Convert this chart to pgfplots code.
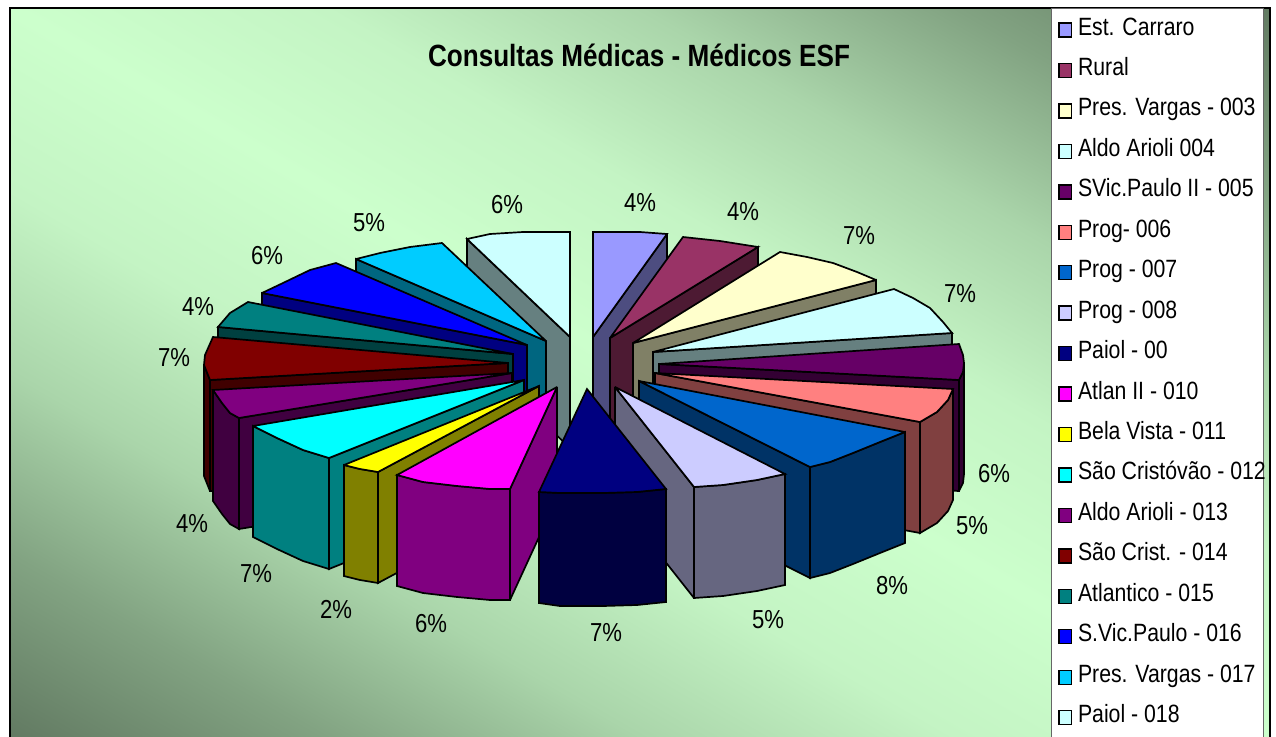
\documentclass[border=0pt]{standalone}
\usepackage{fontspec}
\setmainfont[FakeStretch=0.85]{Liberation Sans}
\usepackage{pgfplots}
\pgfplotsset{compat=1.18}

\pgfplotsset{
  pf/.style={forget plot, draw=black, line width=1.7pt, line join=miter, miter limit=3},
}
\tikzset{pct/.style={font=\fontsize{26}{26}\selectfont, inner sep=0pt}}

\begin{document}
\begin{tikzpicture}
\path[use as bounding box] (0,0) rectangle (1276pt,736pt);
\begin{axis}[
    scale only axis,
    width=1276pt, height=736pt,
    xmin=0, xmax=1276, ymin=0, ymax=736,
    y dir=reverse,
    axis lines=none,
    colormap={bg}{rgb255=(204,255,204) rgb255=(196,244,196) rgb255=(170,213,170) rgb255=(130,163,130) rgb255=(98,122,98)},
    point meta min=0, point meta max=1,
    legend style={at={(axis cs:1058,17)}, anchor=north west, draw=none, fill=none,
      font=\fontsize{25}{25}\selectfont, row sep=16.45pt, inner sep=0pt, outer sep=0pt,
      nodes={inner sep=0pt, text height=18pt, text depth=6pt, anchor=west}},
    legend cell align=left,
    legend image code/.code={\path[draw=none, fill=none] (0pt,0pt) -- (20pt,0pt); \draw[#1, draw=black, line width=1.4pt] (1pt,-8pt) rectangle (13.5pt,6pt);},
]
% legend swatches
\addlegendimage{fill={rgb,255:red,153;green,153;blue,255}}
\addlegendimage{fill={rgb,255:red,153;green,51;blue,102}}
\addlegendimage{fill={rgb,255:red,255;green,255;blue,204}}
\addlegendimage{fill={rgb,255:red,204;green,255;blue,255}}
\addlegendimage{fill={rgb,255:red,102;green,0;blue,102}}
\addlegendimage{fill={rgb,255:red,255;green,128;blue,128}}
\addlegendimage{fill={rgb,255:red,0;green,102;blue,204}}
\addlegendimage{fill={rgb,255:red,204;green,204;blue,255}}
\addlegendimage{fill={rgb,255:red,0;green,0;blue,128}}
\addlegendimage{fill={rgb,255:red,255;green,0;blue,255}}
\addlegendimage{fill={rgb,255:red,255;green,255;blue,0}}
\addlegendimage{fill={rgb,255:red,0;green,255;blue,255}}
\addlegendimage{fill={rgb,255:red,128;green,0;blue,128}}
\addlegendimage{fill={rgb,255:red,128;green,0;blue,0}}
\addlegendimage{fill={rgb,255:red,0;green,128;blue,128}}
\addlegendimage{fill={rgb,255:red,0;green,0;blue,255}}
\addlegendimage{fill={rgb,255:red,0;green,204;blue,255}}
\addlegendimage{fill={rgb,255:red,204;green,255;blue,255}}

% background
\addplot[forget plot, patch, patch type=triangle, shader=interp, point meta=explicit] coordinates {
  (10,8)[0] (1270,736)[0] (1270,8)[1]
  (10,8)[0] (1270,736)[0] (10,736)[1]
};
\addplot[forget plot, draw=black, line width=1.2pt] coordinates {(10,740) (10,8) (1270,8) (1270,740)};
\addplot[pf, fill=white, line width=1pt, draw=black!60] coordinates {(1051,8) (1263,8) (1263,740) (1051,740)} --cycle;

% Paiol - 018
\addplot[pf, fill={rgb,255:red,102;green,128;blue,128}] coordinates {(467,239) (570,337) (570,448) (467,350)} --cycle;
\addplot[pf, fill={rgb,255:red,204;green,255;blue,255}] coordinates {(570,337) (570,232) (523,232) (490,234) (467,239)} --cycle;
% Est. Carraro
\addplot[pf, fill={rgb,255:red,77;green,77;blue,128}] coordinates {(667,234) (593,337) (593,448) (667,345)} --cycle;
\addplot[pf, fill={rgb,255:red,153;green,153;blue,255}] coordinates {(593,337) (593,232) (640,232) (667,234)} --cycle;
% Pres. Vargas - 017
\addplot[pf, fill={rgb,255:red,0;green,102;blue,128}] coordinates {(356,259) (546,341) (546,452) (356,370)} --cycle;
\addplot[pf, fill={rgb,255:red,0;green,204;blue,255}] coordinates {(546,341) (442,243) (410,247) (380,253) (356,259)} --cycle;
% Rural
\addplot[pf, fill={rgb,255:red,77;green,26;blue,51}] coordinates {(758,247) (610,338) (610,449) (758,358)} --cycle;
\addplot[pf, fill={rgb,255:red,153;green,51;blue,102}] coordinates {(610,338) (683,237) (720,241) (758,247)} --cycle;
% S.Vic.Paulo - 016
\addplot[pf, fill={rgb,255:red,0;green,0;blue,128}] coordinates {(262,293) (527,345) (527,456) (262,404)} --cycle;
\addplot[pf, fill={rgb,255:red,0;green,0;blue,255}] coordinates {(527,345) (336,263) (310,270) (283,283) (262,293)} --cycle;
% Pres. Vargas - 003
\addplot[pf, fill={rgb,255:red,128;green,128;blue,102}] coordinates {(876,280) (633,343) (633,454) (876,391)} --cycle;
\addplot[pf, fill={rgb,255:red,255;green,255;blue,204}] coordinates {(633,343) (780,252) (807,257) (833,263) (857,272) (876,280)} --cycle;
% Atlantico - 015
\addplot[pf, fill={rgb,255:red,0;green,64;blue,64}] coordinates {(218,327) (513,354) (513,465) (218,438)} --cycle;
\addplot[pf, fill={rgb,255:red,0;green,128;blue,128}] coordinates {(513,354) (248,302) (230,313) (218,327)} --cycle;
% Aldo Arioli 004
\addplot[pf, fill={rgb,255:red,102;green,128;blue,128}] coordinates {(952,333) (653,352) (653,463) (952,444)} --cycle;
\addplot[pf, fill={rgb,255:red,204;green,255;blue,255}] coordinates {(653,352) (894,289) (913,298) (930,308) (943,322) (952,333)} --cycle;
% Sao Crist. - 014
\addplot[pf, fill={rgb,255:red,64;green,0;blue,0}] coordinates {(508,363) (210,380) (210,491) (508,474)} --cycle;
\addplot[pf, fill={rgb,255:red,64;green,0;blue,0}] coordinates {(204,365) (210,380) (210,491) (204,476)} --cycle;
\addplot[pf, fill={rgb,255:red,128;green,0;blue,0}] coordinates {(508,363) (213,337) (205,355) (204,365) (210,380)} --cycle;
% SVic.Paulo II - 005
\addplot[pf, fill={rgb,255:red,51;green,0;blue,51}] coordinates {(659,364) (959,380) (959,491) (659,475)} --cycle;
\addplot[pf, fill={rgb,255:red,51;green,0;blue,51}] coordinates {(964,363) (963,372) (959,380) (959,491) (963,483) (964,474)} --cycle;
\addplot[pf, fill={rgb,255:red,102;green,0;blue,102}] coordinates {(659,364) (959,344) (963,355) (964,363) (963,372) (959,380)} --cycle;
% Aldo Arioli - 013
\addplot[pf, fill={rgb,255:red,64;green,0;blue,64}] coordinates {(512,373) (239,418) (239,529) (512,484)} --cycle;
\addplot[pf, fill={rgb,255:red,64;green,0;blue,64}] coordinates {(213,390) (222,403) (230,413) (239,418) (239,529) (230,524) (222,514) (213,501)} --cycle;
\addplot[pf, fill={rgb,255:red,128;green,0;blue,128}] coordinates {(512,373) (213,390) (222,403) (230,413) (239,418)} --cycle;
% Prog- 006
\addplot[pf, fill={rgb,255:red,128;green,64;blue,64}] coordinates {(655,373) (920,422) (920,533) (655,484)} --cycle;
\addplot[pf, fill={rgb,255:red,128;green,64;blue,64}] coordinates {(953,389) (948,400) (937,412) (920,422) (920,533) (937,523) (948,511) (953,500)} --cycle;
\addplot[pf, fill={rgb,255:red,255;green,128;blue,128}] coordinates {(655,373) (953,389) (948,400) (937,412) (920,422)} --cycle;
% Sao Cristovao - 012
\addplot[pf, fill={rgb,255:red,0;green,128;blue,128}] coordinates {(524,380) (329,458) (329,569) (524,491)} --cycle;
\addplot[pf, fill={rgb,255:red,0;green,128;blue,128}] coordinates {(253,426) (277,438) (303,450) (329,458) (329,569) (303,561) (277,549) (253,537)} --cycle;
\addplot[pf, fill={rgb,255:red,0;green,255;blue,255}] coordinates {(524,380) (253,426) (277,438) (303,450) (329,458)} --cycle;
% Prog - 007
\addplot[pf, fill={rgb,255:red,0;green,51;blue,102}] coordinates {(639,381) (810,467) (810,578) (639,492)} --cycle;
\addplot[pf, fill={rgb,255:red,0;green,51;blue,102}] coordinates {(905,432) (880,442) (853,453) (830,462) (810,467) (810,578) (830,573) (853,564) (880,553) (905,543)} --cycle;
\addplot[pf, fill={rgb,255:red,0;green,102;blue,204}] coordinates {(639,381) (905,432) (880,442) (853,453) (830,462) (810,467)} --cycle;
% Bela Vista - 011
\addplot[pf, fill={rgb,255:red,128;green,128;blue,0}] coordinates {(539,386) (378,472) (378,583) (539,497)} --cycle;
\addplot[pf, fill={rgb,255:red,128;green,128;blue,0}] coordinates {(344,465) (360,469) (378,472) (378,583) (360,580) (344,576)} --cycle;
\addplot[pf, fill={rgb,255:red,255;green,255;blue,0}] coordinates {(539,386) (344,465) (360,469) (378,472)} --cycle;
% Prog - 008
\addplot[pf, fill={rgb,255:red,102;green,102;blue,128}] coordinates {(615,387) (694,487) (694,598) (615,498)} --cycle;
\addplot[pf, fill={rgb,255:red,102;green,102;blue,128}] coordinates {(785,474) (757,480) (723,485) (694,487) (694,598) (723,596) (757,591) (785,585)} --cycle;
\addplot[pf, fill={rgb,255:red,204;green,204;blue,255}] coordinates {(615,387) (785,474) (757,480) (723,485) (694,487)} --cycle;
% Atlan II - 010
\addplot[pf, fill={rgb,255:red,128;green,0;blue,128}] coordinates {(557,387) (510,489) (510,600) (557,498)} --cycle;
\addplot[pf, fill={rgb,255:red,128;green,0;blue,128}] coordinates {(397,475) (423,482) (457,486) (490,489) (510,489) (510,600) (490,600) (457,597) (423,593) (397,586)} --cycle;
\addplot[pf, fill={rgb,255:red,255;green,0;blue,255}] coordinates {(557,387) (397,475) (423,482) (457,486) (490,489) (510,489)} --cycle;
% Paiol - 00
\addplot[pf, fill={rgb,255:red,0;green,0;blue,64}] coordinates {(539,492) (560,493) (603,493) (637,492) (666,489) (666,602) (637,605) (603,606) (560,606) (539,603)} --cycle;
\addplot[pf, fill={rgb,255:red,0;green,0;blue,128}] coordinates {(587,389) (666,489) (637,492) (603,493) (560,493) (539,492)} --cycle;

\node[font=\bfseries\fontsize{30.7}{31}\selectfont, inner sep=0pt] at (axis cs:639,55) {Consultas Médicas - Médicos ESF};
\node[pct] at (axis cs:640,203) {4\%};
\node[pct] at (axis cs:743,212) {4\%};
\node[pct] at (axis cs:859,236) {7\%};
\node[pct] at (axis cs:960,294) {7\%};
\node[pct] at (axis cs:994,474) {6\%};
\node[pct] at (axis cs:972,526) {5\%};
\node[pct] at (axis cs:892,586) {8\%};
\node[pct] at (axis cs:768,620) {5\%};
\node[pct] at (axis cs:606,633) {7\%};
\node[pct] at (axis cs:431,624) {6\%};
\node[pct] at (axis cs:336,609) {2\%};
\node[pct] at (axis cs:256,574) {7\%};
\node[pct] at (axis cs:192,524) {4\%};
\node[pct] at (axis cs:174,358) {7\%};
\node[pct] at (axis cs:198,307) {4\%};
\node[pct] at (axis cs:267,256) {6\%};
\node[pct] at (axis cs:369,223) {5\%};
\node[pct] at (axis cs:507,205) {6\%};

\legend{Est. Carraro, Rural, Pres. Vargas - 003, Aldo Arioli 004, SVic.Paulo II - 005, Prog- 006, Prog - 007, Prog - 008, Paiol - 00, Atlan II - 010, Bela Vista - 011, São Cristóvão - 012, Aldo Arioli - 013, São Crist. - 014, Atlantico - 015, S.Vic.Paulo - 016, Pres. Vargas - 017, Paiol - 018}
\end{axis}
\end{tikzpicture}
\end{document}
